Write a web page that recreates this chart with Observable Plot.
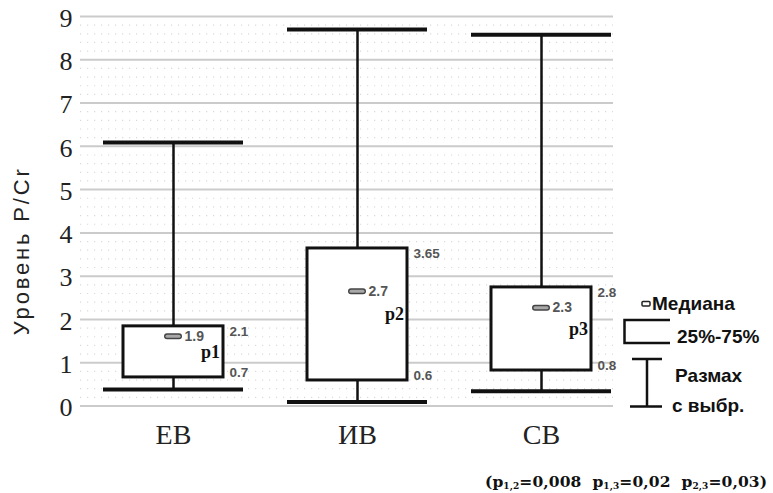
<!DOCTYPE html>
<html>
<head>
<meta charset="utf-8">
<script src="https://cdn.jsdelivr.net/npm/d3@7"></script>
<script src="https://cdn.jsdelivr.net/npm/@observablehq/plot@0.6"></script>
<style>
  html, body { margin: 0; padding: 0; background: #fff; }
  #wrap { position: relative; width: 773px; height: 493px; overflow: hidden; }
  #overlay { position: absolute; left: 0; top: 0; pointer-events: none; }
</style>
</head>
<body>
<div id="wrap"></div>
<script>
// ---- data ----
const categories   = ["ЕВ", "ИВ", "СВ"];
const whiskerLow   = [0.38, 0.09, 0.34];
const quartile1    = [0.66, 0.59, 0.82];
const medians      = [1.61, 2.65, 2.27];
const quartile3    = [1.84, 3.64, 2.74];
const whiskerHigh  = [6.09, 8.7, 8.58];
const medianLabels = ["1.9", "2.7", "2.3"];
const q3Labels     = ["2.1", "3.65", "2.8"];
const q1Labels     = ["0.7", "0.6", "0.8"];
const pLabels      = ["p1", "p2", "p3"];
const yTicks       = [0, 1, 2, 3, 4, 5, 6, 7, 8, 9];
const yLabel       = "Уровень P/Cr";
const legendLabels = ["Медиана", "25%-75%", "Размах", "с выбр."];
const pairLabels   = ["1,2", "1,3", "2,3"];
const pairValues   = ["0,008", "0,02", "0,03"];

const rows = categories.map((c, i) => ({
  cat: c, lo: whiskerLow[i], q1: quartile1[i], med: medians[i], q3: quartile3[i], hi: whiskerHigh[i],
  medLabel: medianLabels[i], q3Label: q3Labels[i], q1Label: q1Labels[i], p: pLabels[i]
}));
const minorTicks = d3.range(0, 9.001, 0.2).filter(v => Math.abs(v - Math.round(v)) > 1e-6);

const serif = "'Liberation Serif', 'Times New Roman', serif";
const sans = "'Liberation Sans', Arial, sans-serif";

const chart = Plot.plot({
  width: 773,
  height: 493,
  marginLeft: 80,
  marginRight: 160,
  marginTop: 16,
  marginBottom: 87.5,
  style: { background: "#fff", fontFamily: serif },
  x: { type: "band", domain: categories, range: [81, 633], padding: 0, axis: null },
  y: { domain: [0, 9], axis: null },
  marks: [
    Plot.ruleY(minorTicks, { y: d => d, stroke: "#bbb", strokeWidth: 1.2, strokeDasharray: "1.2,5.8", strokeOpacity: 0.55 }),
    Plot.ruleY(yTicks, { y: d => d, stroke: "#cbcbcb", strokeWidth: 2 }),
    Plot.text(yTicks, { y: d => d, frameAnchor: "left", textAnchor: "end", dx: -8, dy: 2, fontSize: 26, fill: "#222", fontFamily: serif }),
    Plot.text(categories, { x: d => d, frameAnchor: "bottom", dy: 38, fontSize: 28, fill: "#222", fontFamily: serif }),
    Plot.text([yLabel], { frameAnchor: "left", textAnchor: "middle", rotate: -90, dx: -59, dy: 41, fontSize: 22, fill: "#222", fontFamily: sans }),
    // whiskers
    Plot.ruleX(rows, { x: "cat", y1: "lo", y2: "hi", stroke: "#111", strokeWidth: 2.5 }),
    Plot.tickY(rows, { x: "cat", y: "hi", stroke: "#111", strokeWidth: 4, insetLeft: 22, insetRight: 22 }),
    Plot.tickY(rows, { x: "cat", y: "lo", stroke: "#111", strokeWidth: 4, insetLeft: 22, insetRight: 22 }),
    // boxes
    Plot.barY(rows, { x: "cat", y1: "q1", y2: "q3", fill: "#fff", stroke: "#111", strokeWidth: 3, insetLeft: 42, insetRight: 42 }),
    // medians
    Plot.tickY(rows, { x: "cat", y: "med", stroke: "#444", strokeWidth: 6, strokeLinecap: "round", insetLeft: 86, insetRight: 86 }),
    Plot.tickY(rows, { x: "cat", y: "med", stroke: "#a8a8a8", strokeWidth: 3, strokeLinecap: "round", insetLeft: 86, insetRight: 86 }),
    // labels
    Plot.text(rows, { x: "cat", y: "med", text: "medLabel", textAnchor: "start", dx: 11, fontSize: 14, fontWeight: "bold", fill: "#555", fontFamily: sans }),
    Plot.text(rows, { x: "cat", y: "q3", text: "q3Label", textAnchor: "start", dx: 56, dy: 5, fontSize: 13.5, fontWeight: "bold", fill: "#555", fontFamily: sans }),
    Plot.text(rows, { x: "cat", y: "q1", text: "q1Label", textAnchor: "start", dx: 56, dy: -5, fontSize: 13.5, fontWeight: "bold", fill: "#555", fontFamily: sans }),
    Plot.text(rows, { x: "cat", y: d => (d.q1 + d.q3) / 2, text: "p", dx: 37, fontSize: 18, fontWeight: "bold", fill: "#111", fontFamily: serif })
  ]
});

const wrap = document.getElementById("wrap");
wrap.appendChild(chart);

// slightly spaced lettering of the y label, as in the original
d3.select(chart).selectAll("text").filter(function () { return this.textContent === yLabel; })
  .attr("textLength", 166).attr("lengthAdjust", "spacing");

// legend overlay (decoration)
const ov = d3.select(wrap).append("svg").attr("id", "overlay").attr("width", 773).attr("height", 493);
ov.append("rect").attr("x", 642).attr("y", 301.5).attr("width", 8).attr("height", 4.5).attr("rx", 1)
  .attr("fill", "#fff").attr("stroke", "#222").attr("stroke-width", 1.5);
ov.append("path").attr("d", "M670,320H624.5V343H670").attr("fill", "none").attr("stroke", "#111").attr("stroke-width", 2.5);
ov.append("path").attr("d", "M632,359H662M647,359V406.5M630,406.5H662").attr("fill", "none").attr("stroke", "#111").attr("stroke-width", 2.5);
const legendPos = [[652, 310], [677, 343], [675, 382], [672, 412]];
ov.selectAll("text.lg").data(legendLabels).join("text").attr("class", "lg")
  .attr("x", (d, i) => legendPos[i][0]).attr("y", (d, i) => legendPos[i][1]).text(d => d)
  .attr("font-family", sans).attr("font-weight", "bold").attr("font-size", 19).attr("fill", "#111");

// caption with subscripts
const cap = ov.append("text").attr("x", 485).attr("y", 487)
  .attr("font-family", "'DejaVu Serif', serif").attr("font-weight", "bold").attr("font-size", 15.5)
  .attr("fill", "#111").style("white-space", "pre").attr("textLength", 282).attr("lengthAdjust", "spacing");
cap.append("tspan").text("(");
pairLabels.forEach((pl, i) => {
  cap.append("tspan").text((i ? "  " : "") + "p");
  cap.append("tspan").attr("font-size", 9).attr("dy", 1.5).text(pl);
  cap.append("tspan").attr("dy", -1.5).text("=" + pairValues[i] + (i === pairLabels.length - 1 ? ")" : ""));
});
</script>
</body>
</html>
